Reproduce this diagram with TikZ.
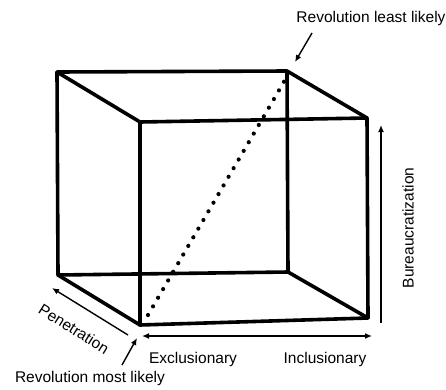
\documentclass[tikz,border=0pt]{standalone}
\usepackage{fontspec}
\setmainfont{Liberation Sans}
\usetikzlibrary{arrows.meta}

\begin{document}
\begin{tikzpicture}[x=1pt, y=-1pt,
    edge/.style={line width=3.6pt, line cap=round, line join=round},
    axis/.style={line width=1.4pt},
    tip/.tip={Latex[length=7pt, width=6pt]},
    lbl/.style={font=\fontsize{15.5}{18}\selectfont, inner sep=0pt}]
    \useasboundingbox (0,0) rectangle (446,389);
    % cube corners (back face, front face)
    \coordinate (bTL) at (57,72);
    \coordinate (bTR) at (287,71);
    \coordinate (bBL) at (58,275);
    \coordinate (bBR) at (288,272);
    \coordinate (fTL) at (140,122);
    \coordinate (fTR) at (367,118);
    \coordinate (fBL) at (140,325);
    \coordinate (fBR) at (368,318);
    % back face
    \draw[edge] (bTL) -- (bTR) -- (bBR) -- (bBL) -- cycle;
    % front face
    \draw[edge] (fTL) -- (fTR) -- (fBR) -- (fBL) -- cycle;
    % depth edges
    \draw[edge] (bTL) -- (fTL);
    \draw[edge] (bTR) -- (fTR);
    \draw[edge] (bBL) -- (fBL);
    \draw[edge] (bBR) -- (fBR);
    % diagonal
    \coordinate (dLow) at (148,315);
    \coordinate (dHigh) at (285,80);
    \draw[line width=4.2pt, line cap=round, dash pattern=on 0pt off 10pt] (dLow) -- (dHigh);
    % axes
    \coordinate (bzLow) at (381,323);
    \coordinate (bzHigh) at (381,125);
    \draw[axis, -tip] (bzLow) -- (bzHigh);
    \node[lbl, rotate=90] (bureau) at (408,228) {Bureaucratization};
    \coordinate (exLeft) at (142,336);
    \coordinate (exRight) at (372,336);
    \draw[axis, tip-tip] (exLeft) -- (exRight);
    \node[lbl] (excl) at (193,359) {Exclusionary};
    \node[lbl] (incl) at (325,359) {Inclusionary};
    \coordinate (penLow) at (128,335);
    \coordinate (penHigh) at (52,288);
    \draw[axis, -tip] (penLow) -- (penHigh);
    \node[lbl, rotate=-32] (pen) at (74,329) {Penetration};
    % labels
    \node[lbl] (most) at (90,378) {Revolution most likely};
    \coordinate (mostTip) at (137,338);
    \draw[axis, -tip] (122,365) -- (mostTip);
    \node[lbl] (least) at (371,18) {Revolution least likely};
    \coordinate (leastTip) at (295,62);
    \draw[axis, -tip] (312,33) -- (leastTip);
\end{tikzpicture}
\end{document}
